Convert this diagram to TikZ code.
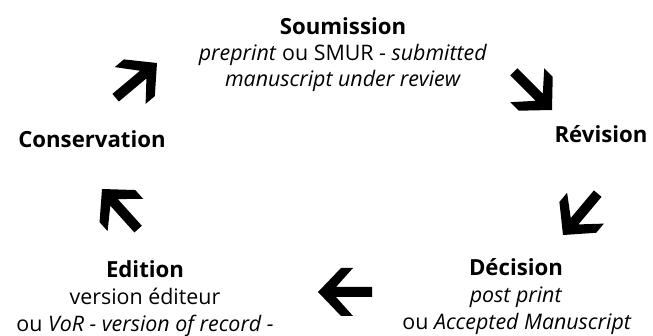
\documentclass[tikz,border=0pt]{standalone}
\usepackage{fontspec}
\setmainfont{Open Sans}
\begin{document}
\begin{tikzpicture}[x=1pt,y=-1pt,
  lbl/.style={anchor=base,inner sep=0pt,font=\fontsize{21.4}{27}\selectfont},
  ttl/.style={lbl,font=\fontsize{22.2}{27}\selectfont\bfseries},
  bigarrow/.style={fill=black,draw=none}]
\useasboundingbox (0,0) rectangle (653,336);
% Soumission
\node[ttl] (s1) at (343,35) {Soumission};
\node[lbl] (s2) at (343,61) {\textit{preprint} ou SMUR - \textit{submitted}};
\node[lbl] (s3) at (343,87) {\textit{manuscript under review}};
% Revision
\node[ttl] (r1) at (601,143) {Révision};
% Decision
\node[ttl] (d1) at (516,276) {Décision};
\node[lbl] (d2) at (516,303) {\textit{post print}};
\node[lbl] (d3) at (517,330) {ou \textit{Accepted Manuscript}};
% Edition
\node[ttl] (e1) at (145,278) {Edition};
\node[lbl] (e2) at (145,305) {version éditeur};
\node[lbl] (e3) at (145,332) {ou \textit{VoR - version of record -}};
% Conservation
\node[ttl] (c1) at (92,148) {Conservation};
% arrows
\def\bigarrowpath{(0,0) -- (-23,24) -- (-35,24) -- (-18,5) -- (-54,5) -- (-54,-5) -- (-18,-5) -- (-35,-24) -- (-23,-24) -- cycle}
\foreach \tx/\ty/\ang in {157/63/40, 552/110/-45, 563/235/230, 318/292/180, 102/189/132}{
  \begin{scope}[shift={(\tx,\ty)},rotate=\ang]
    \fill[bigarrow] \bigarrowpath;
  \end{scope}
}
\end{tikzpicture}
\end{document}
